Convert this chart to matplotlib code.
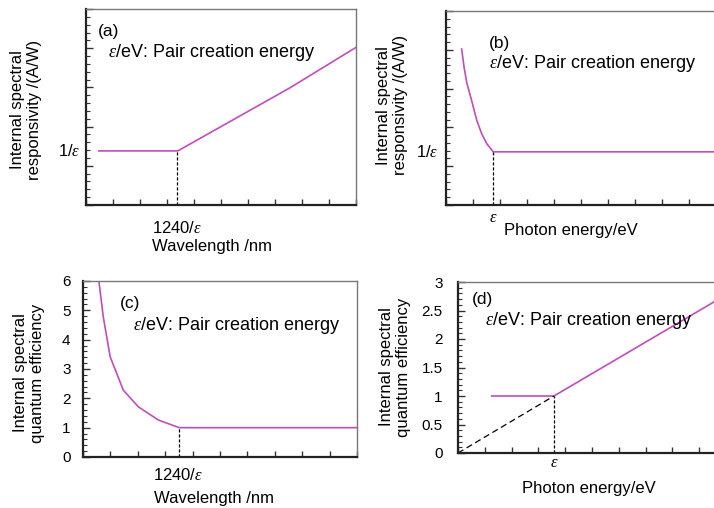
import matplotlib
matplotlib.use("Agg")
import matplotlib.pyplot as plt
from matplotlib.ticker import MultipleLocator, NullFormatter

plt.rcParams['font.family'] = ['Liberation Sans', 'DejaVu Sans']
plt.rcParams['mathtext.fontset'] = 'custom'
plt.rcParams['mathtext.it'] = 'Liberation Serif:italic'
plt.rcParams['mathtext.rm'] = 'Liberation Sans'

# ---- data ----
# (a) responsivity vs wavelength
a_x = [0.48, 3.40, 7.53, 10.0]
a_y = [1.38, 1.38, 2.98, 4.02]
a_knee = 3.37
a_level = 1.38

# (b) responsivity vs photon energy
b_x = [0.58, 0.67, 0.77, 0.95, 1.14, 1.32, 1.51, 1.75, 10.0]
b_y = [4.02, 3.55, 3.15, 2.69, 2.18, 1.84, 1.58, 1.37, 1.37]
b_knee = 1.75
b_level = 1.37

# (c) quantum efficiency vs wavelength
c_x = [0.58, 0.74, 0.99, 1.47, 2.02, 2.75, 3.51, 10.0]
c_y = [6.0, 4.78, 3.42, 2.28, 1.71, 1.26, 1.0, 1.0]
c_knee = 3.51

# (d) quantum efficiency vs photon energy
d_x = [1.26, 3.58, 9.55, 10.0]
d_y = [1.0, 1.0, 2.65, 2.78]
d_diag_x = [0.0, 3.58]
d_diag_y = [0.0, 1.0]
d_knee = 3.58

c_yticks = [0, 1, 2, 3, 4, 5, 6]
c_yticklabels = ['0', '1', '2', '3', '4', '5', '6']
d_yticks = [0, 0.5, 1, 1.5, 2, 2.5, 3]
d_yticklabels = ['0', '0.5', '1', '1.5', '2', '2.5', '3']

EPS = r'$\varepsilon$'
LINE_C = '#C04DB8'
ANN = EPS + '/eV: Pair creation energy'
ANN_FS = 13

fig = plt.figure(figsize=(7.14, 5.08), dpi=100)
W, H = 714, 508

def make_ax(l, r, b, t):
    return fig.add_axes([l / W, 1 - b / H, (r - l) / W, (b - t) / H])

ax_a = make_ax(86, 356, 205, 9)
ax_b = make_ax(446, 716, 205, 11)
ax_c = make_ax(83, 357, 457, 281)
ax_d = make_ax(458, 726, 453, 282)

def style(ax, ymax, ymajor, yminor):
    ax.set_xlim(0, 10)
    ax.set_ylim(0, ymax)
    ax.xaxis.set_major_locator(MultipleLocator(1))
    ax.yaxis.set_major_locator(MultipleLocator(ymajor))
    ax.yaxis.set_minor_locator(MultipleLocator(yminor))
    ax.xaxis.set_major_formatter(NullFormatter())
    ax.yaxis.set_major_formatter(NullFormatter())
    ax.tick_params(axis='x', which='major', direction='in', length=4, width=1,
                   color='#333333', top=False, bottom=True)
    ax.tick_params(axis='y', which='major', direction='in', length=5, width=1,
                   color='#333333', right=False, left=True, labelsize=11, pad=9)
    ax.tick_params(axis='y', which='minor', direction='in', length=3, width=0.8,
                   color='#333333', right=False, left=True)
    for s in ('left', 'bottom'):
        ax.spines[s].set_color('#222222')
        ax.spines[s].set_linewidth(1.6)
    for s in ('top', 'right'):
        ax.spines[s].set_color('#777777')
        ax.spines[s].set_linewidth(1.0)

def ylab(ax, text, x, y):
    ax.text(x, y, text, transform=ax.transAxes, rotation=90, ha='center',
            va='center', fontsize=12, multialignment='center')

# ---- (a)
style(ax_a, 5, 1, 0.2)
ax_a.plot(a_x, a_y, color=LINE_C, lw=1.2)
ax_a.plot([a_knee, a_knee], [0, a_level], color='black', lw=0.9, ls=(0, (2.5, 1.5)))
ax_a.text(0.044, 0.883, '(a)', transform=ax_a.transAxes, fontsize=12.5, va='center')
ax_a.text(0.081, 0.776, ANN, transform=ax_a.transAxes, fontsize=ANN_FS, va='center')
ax_a.text(-0.022, a_level, '1/' + EPS, transform=ax_a.get_yaxis_transform(),
          ha='right', va='center', fontsize=12)
ax_a.text(a_knee, -0.117, '1240/' + EPS, transform=ax_a.get_xaxis_transform(),
          ha='center', va='center', fontsize=12)
ax_a.text(0.467, -0.214, 'Wavelength /nm', transform=ax_a.transAxes,
          ha='center', va='center', fontsize=12)
ylab(ax_a, 'Internal spectral\nresponsivity /(A/W)', -0.222, 0.485)

# ---- (b)
style(ax_b, 5, 1, 0.2)
ax_b.plot(b_x, b_y, color=LINE_C, lw=1.2)
ax_b.plot([b_knee, b_knee], [0, b_level], color='black', lw=0.9, ls=(0, (2.5, 1.5)))
ax_b.text(0.157, 0.834, '(b)', transform=ax_b.transAxes, fontsize=12.5, va='center')
ax_b.text(0.160, 0.730, ANN, transform=ax_b.transAxes, fontsize=ANN_FS, va='center')
ax_b.text(-0.03, b_level, '1/' + EPS, transform=ax_b.get_yaxis_transform(),
          ha='right', va='center', fontsize=12)
ax_b.text(b_knee, -0.067, EPS, transform=ax_b.get_xaxis_transform(),
          ha='center', va='center', fontsize=12)
ax_b.text(0.463, -0.129, 'Photon energy/eV', transform=ax_b.transAxes,
          ha='center', va='center', fontsize=12)
ylab(ax_b, 'Internal spectral\nresponsivity /(A/W)', -0.2, 0.515)

# ---- (c)
style(ax_c, 6, 1, 0.2)
ax_c.set_yticks(c_yticks)
ax_c.set_yticklabels(c_yticklabels)
ax_c.plot(c_x, c_y, color=LINE_C, lw=1.2, clip_on=True)
ax_c.plot([c_knee, c_knee], [0, 1.0], color='black', lw=0.9, ls=(0, (2.5, 1.5)))
ax_c.text(0.135, 0.873, '(c)', transform=ax_c.transAxes, fontsize=12.5, va='center')
ax_c.text(0.184, 0.75, ANN, transform=ax_c.transAxes, fontsize=ANN_FS, va='center')
ax_c.text(c_knee - 0.05, -0.102, '1240/' + EPS, transform=ax_c.get_xaxis_transform(),
          ha='center', va='center', fontsize=12)
ax_c.text(0.478, -0.233, 'Wavelength /nm', transform=ax_c.transAxes,
          ha='center', va='center', fontsize=12)
ylab(ax_c, 'Internal spectral\nquantum efficiency', -0.197, 0.477)

# ---- (d)
style(ax_d, 3, 0.5, 0.1)
ax_d.set_yticks(d_yticks)
ax_d.set_yticklabels(d_yticklabels)
ax_d.tick_params(axis='y', which='major', pad=11)
ax_d.plot(d_x, d_y, color=LINE_C, lw=1.2)
ax_d.plot(d_diag_x, d_diag_y, color='black', lw=0.9, ls=(0, (5, 3)))
ax_d.plot([d_knee, d_knee], [0, 1.0], color='black', lw=0.9, ls=(0, (2.5, 1.5)))
ax_d.text(0.051, 0.895, '(d)', transform=ax_d.transAxes, fontsize=12.5, va='center')
ax_d.text(0.101, 0.774, ANN, transform=ax_d.transAxes, fontsize=ANN_FS, va='center')
ax_d.text(d_knee, -0.058, EPS, transform=ax_d.get_xaxis_transform(),
          ha='center', va='center', fontsize=12)
ax_d.text(0.489, -0.21, 'Photon energy/eV', transform=ax_d.transAxes,
          ha='center', va='center', fontsize=12)
ylab(ax_d, 'Internal spectral\nquantum efficiency', -0.235, 0.503)

fig.savefig('out.png', dpi=100)
